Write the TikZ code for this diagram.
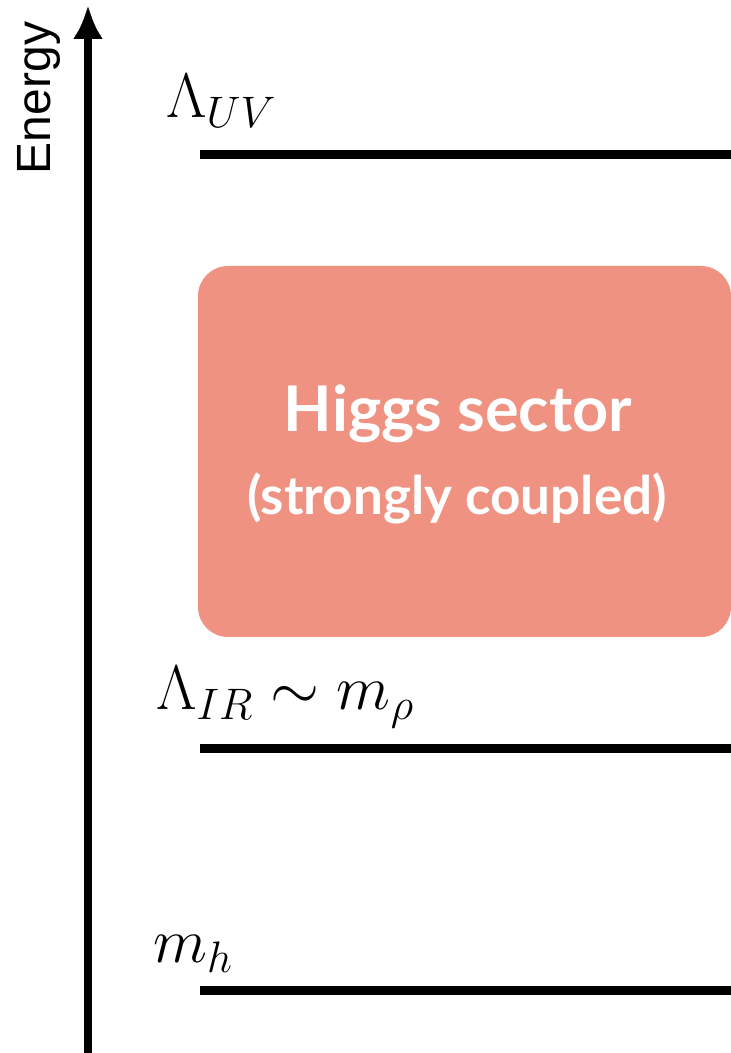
\RequirePackage{fix-cm}
\documentclass[tikz,border=0pt]{standalone}
\usepackage{fontspec}
\setsansfont{Liberation Sans}
\newfontfamily\boxfont{Lato}
\usetikzlibrary{arrows.meta}
\definecolor{salmon}{RGB}{240,146,130}
\begin{document}
\begin{tikzpicture}[x=1pt,y=1pt,
  level/.style={line width=9pt},
  mathlbl/.style={inner sep=0pt,anchor=base west,font=\fontsize{63}{66}\selectfont},
  boxtxt/.style={inner sep=0pt,anchor=base,text=white}]
\useasboundingbox (0,0) rectangle (731,1053);
% axis
\coordinate (axb) at (88,0);
\coordinate (axt) at (88,1048);
\draw[line width=8pt,-{Latex[length=34pt,width=30pt]}] (axb) -- (axt);
\node[rotate=90,anchor=base,inner sep=0pt,font=\sffamily\fontsize{48}{52}\selectfont] (energy) at (50,955) {Energy};
% box
\node[fill=salmon,rounded corners=30pt,minimum width=533pt,minimum height=371pt,inner sep=0pt] (box) at (464.5,601.5) {};
\node[boxtxt,font=\boxfont\bfseries\fontsize{63}{66}\selectfont] (higgs) at (458,621) {Higgs sector};
\node[boxtxt,font=\boxfont\bfseries\fontsize{53}{56}\selectfont] (strong) at (457,538) {(strongly coupled)};
% levels
\coordinate (uvl) at (200,898);
\coordinate (uvr) at (731,898);
\coordinate (irl) at (200,304);
\coordinate (irr) at (731,304);
\coordinate (mhl) at (200,62);
\coordinate (mhr) at (731,62);
\draw[level] (uvl) -- (uvr);
\draw[level] (irl) -- (irr);
\draw[level] (mhl) -- (mhr);
\node[mathlbl] (uv) at (166,935) {$\Lambda_{UV}$};
\node[mathlbl] (ir) at (156,343) {$\Lambda_{IR}\sim m_\rho$};
\node[mathlbl] (mh) at (153,90) {$m_h$};
\end{tikzpicture}
\end{document}
